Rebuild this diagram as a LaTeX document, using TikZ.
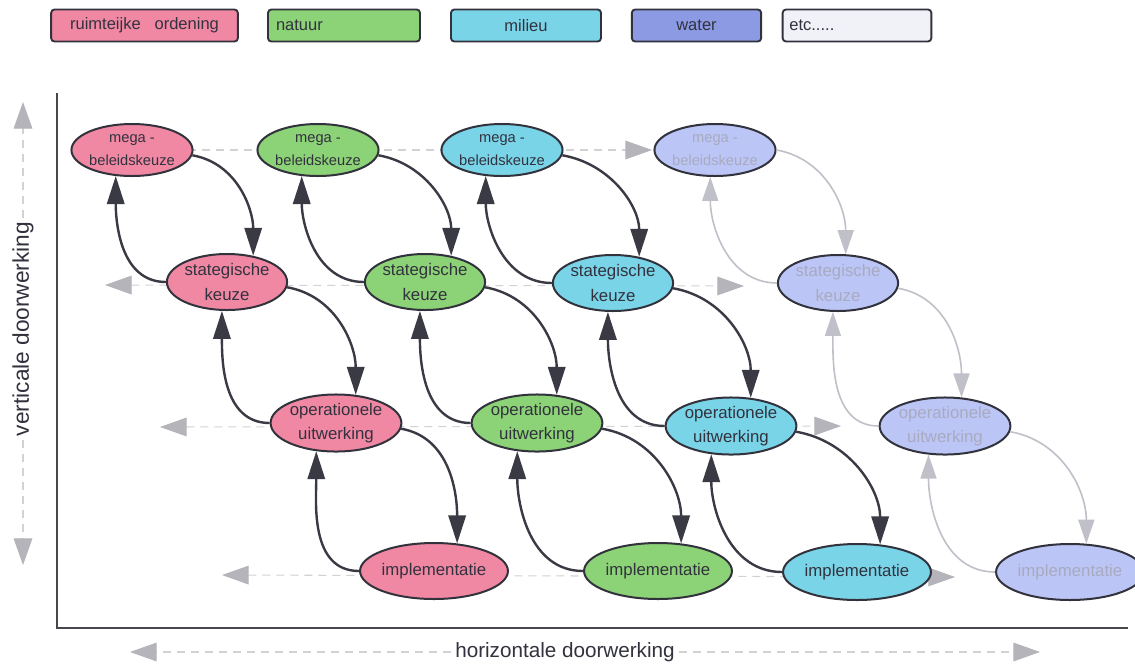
\documentclass[tikz,border=0pt]{standalone}
\usepackage{fontspec}
\setmainfont{Liberation Sans}
\usetikzlibrary{arrows.meta,shapes.geometric}

\definecolor{roze}{RGB}{240,136,164}
\definecolor{groen}{RGB}{140,210,118}
\definecolor{cyaan}{RGB}{122,212,232}
\definecolor{waterblauw}{RGB}{140,154,228}
\definecolor{lichtblauw}{RGB}{188,198,246}
\definecolor{etcwit}{RGB}{241,241,248}
\definecolor{rand}{RGB}{50,50,60}
\definecolor{tekst}{RGB}{50,50,62}
\definecolor{pijl}{RGB}{58,58,68}
\definecolor{vaag}{RGB}{192,192,200}
\definecolor{vaagtekst}{RGB}{168,170,192}
\definecolor{streep}{RGB}{210,210,214}
\definecolor{driehoek}{RGB}{180,180,186}
\definecolor{as}{RGB}{70,70,76}

\begin{document}
\begin{tikzpicture}[x=0.75pt,y=0.75pt,
    fase/.style={ellipse,draw=rand,line width=1.5pt,inner sep=0pt,align=center,
      text=tekst,font=\fontsize{12.6}{18.5}\selectfont},
    mega/.style={fase,minimum width=85.5pt,minimum height=39pt,font=\fontsize{11}{17}\selectfont},
    stap/.style={fase,minimum width=85.5pt,minimum height=42pt},
    breed/.style={fase,minimum width=95pt,minimum height=42pt},
    vaagfase/.style={fill=lichtblauw,text=vaagtekst},
    neer/.style={draw=pijl,line width=1.8pt,-{Triangle[length=21pt,width=13pt]}},
    vaagneer/.style={draw=vaag,line width=1.2pt,-{Triangle[length=18pt,width=12pt]}},
    streepje/.style={draw=streep,line width=0.8pt,dash pattern=on 6pt off 4.5pt},
    rechts/.style={streepje,-{Triangle[length=20pt,width=14pt,color=driehoek]}},
    beide/.style={streepje,{Triangle[length=20pt,width=14pt,color=driehoek]}-{Triangle[length=20pt,width=14pt,color=driehoek]}},
    legenda/.style={draw=rand,line width=1.4pt,rounded corners=2.5pt,minimum height=24pt,
      inner sep=0pt,text=tekst,font=\fontsize{12.4}{14}\selectfont},
    aslabel/.style={fill=white,inner sep=3pt,text=tekst,font=\fontsize{15.5}{18}\selectfont}
  ]
  \fill[white] (0,0) rectangle (1135,-665);
  \useasboundingbox (0,0) rectangle (1135,-665);

  % legenda
  \node[legenda,fill=roze,minimum width=140pt] (lro) at (144.5,-25.5) {ruimteijke\ \ \ ordening};
  \node[legenda,fill=groen,text width=102pt,inner xsep=6pt,align=left] (lnat) at (344,-25.5) {natuur};
  \node[legenda,fill=cyaan,minimum width=112.5pt] (lmil) at (526,-25.5) {milieu};
  \node[legenda,fill=waterblauw,minimum width=97pt] (lwat) at (696.5,-25.5) {water};
  \node[legenda,fill=etcwit,text width=101.5pt,inner xsep=5pt,align=left] (letc) at (857,-25.5) {etc.....};

  % assen
  \coordinate (oorsprong) at (57,-628);
  \coordinate (ytop) at (57,-93);
  \coordinate (xeind) at (1128,-628);
  \draw[as,line width=1.6pt] (ytop) -- (oorsprong) -- (xeind);

  \node[aslabel,rotate=90,font=\fontsize{17}{20}\selectfont] (vlab) at (23,-329) {verticale doorwerking};
  \coordinate (vboven) at (23,-102);
  \coordinate (vonder) at (23,-565);
  \draw[rechts] (vlab) -- (vboven);
  \draw[rechts] (vlab) -- (vonder);

  \node[aslabel] (hlab) at (565,-652) {horizontale doorwerking};
  \coordinate (hlinks) at (130,-652);
  \coordinate (hrechts) at (1040,-652);
  \draw[rechts] (hlab) -- (hlinks);
  \draw[rechts] (hlab) -- (hrechts);

  % horizontale doorwerking per niveau
  \coordinate (r1a) at (76,-150);
  \coordinate (r1b) at (652,-150);
  \coordinate (r2a) at (105,-285);
  \coordinate (r2b) at (744,-286);
  \coordinate (r3a) at (160,-427);
  \coordinate (r3b) at (841,-426);
  \coordinate (r4a) at (222,-575);
  \coordinate (r4b) at (955,-577);
  \draw[rechts] (r1a) -- (r1b);
  \draw[beide] (r2a) -- (r2b);
  \draw[beide] (r3a) -- (r3b);
  \draw[beide] (r4a) -- (r4b);

  % ruimtelijke ordening
  \node[mega,fill=roze] (m1) at (132,-150) {mega -\\beleidskeuze};
  \node[stap,fill=roze] (s1) at (227,-282) {stategische\\keuze};
  \node[breed,fill=roze] (o1) at (336,-423) {operationele\\uitwerking};
  \node[breed,fill=roze] (i1) at (434,-571) {implementatie};
  % natuur
  \node[mega,fill=groen] (m2) at (318,-150) {mega -\\beleidskeuze};
  \node[stap,fill=groen] (s2) at (425,-282) {stategische\\keuze};
  \node[breed,fill=groen] (o2) at (537,-423) {operationele\\uitwerking};
  \node[breed,fill=groen] (i2) at (658,-571) {implementatie};
  % milieu
  \node[mega,fill=cyaan] (m3) at (502,-150) {mega -\\beleidskeuze};
  \node[stap,fill=cyaan] (s3) at (613,-283) {stategische\\keuze};
  \node[breed,fill=cyaan] (o3) at (731,-426) {operationele\\uitwerking};
  \node[breed,fill=cyaan] (i3) at (857,-572) {implementatie};
  % water
  \node[mega,vaagfase] (m4) at (715,-150) {mega -\\beleidskeuze};
  \node[stap,vaagfase] (s4) at (838,-283) {stategische\\keuze};
  \node[breed,vaagfase] (o4) at (945,-426) {operationele\\uitwerking};
  \node[breed,vaagfase] (i4) at (1070,-572) {implementatie};

  % verticale doorwerking
  \foreach \k in {1,2,3} {
    \draw[neer] (m\k.-5) to[out=-10,in=90] (s\k.45);
    \draw[neer] (s\k.west) to[out=180,in=-90] (m\k.-122);
    \draw[neer] (s\k.-5) to[out=-10,in=90] (o\k.55);
    \draw[neer] (o\k.west) to[out=180,in=-90] (s\k.-100);
    \draw[neer] (o\k.-5) to[out=-10,in=90] (i\k.50);
    \draw[neer] (i\k.west) to[out=180,in=-90] (o\k.-125);
  }
  \draw[vaagneer] (m4.east) to[out=-10,in=90] (s4.75);
  \draw[vaagneer] (s4.west) to[out=180,in=-90] (m4.-100);
  \draw[vaagneer] (s4.-5) to[out=-10,in=90] (o4.60);
  \draw[vaagneer] (o4.west) to[out=180,in=-90] (s4.-100);
  \draw[vaagneer] (o4.-5) to[out=-10,in=90] (i4.60);
  \draw[vaagneer] (i4.west) to[out=180,in=-90] (o4.-120);
\end{tikzpicture}
\end{document}
